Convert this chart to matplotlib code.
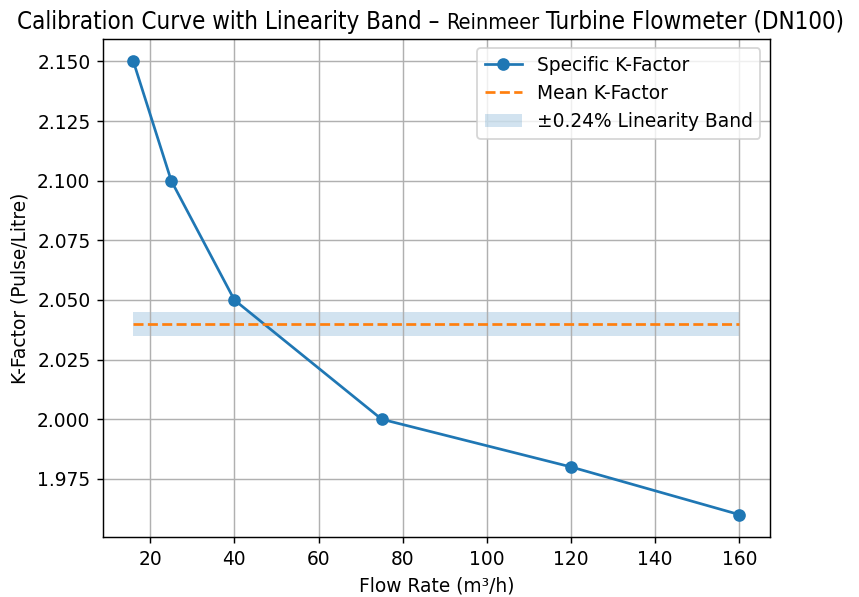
import matplotlib
matplotlib.use("Agg")
import matplotlib.pyplot as plt

# Calibration data
flow_rate = [16, 25, 40, 75, 120, 160]
k_factor = [2.150, 2.100, 2.050, 2.000, 1.980, 1.960]
linearity_pct = 0.24

mean_k = sum(k_factor) / len(k_factor)
band = mean_k * linearity_pct / 100

title_parts = ["Calibration Curve with Linearity Band \u2013 ", "Reinmeer", " Turbine Flowmeter (DN100)"]
title_sizes = [13.3, 12, 13.3]

plt.rcParams["font.size"] = 10.3

fig, ax = plt.subplots(figsize=(859 / 130, 597 / 130), dpi=130)
fig.subplots_adjust(left=0.12, right=0.896, top=0.935, bottom=0.1)

ax.plot(flow_rate, k_factor, marker="o", label="Specific K-Factor")
ax.plot(flow_rate, [mean_k] * len(flow_rate), linestyle="--", label="Mean K-Factor")
ax.fill_between(flow_rate, mean_k - band, mean_k + band, alpha=0.2,
                label=f"\u00b1{linearity_pct}% Linearity Band")

ax.set_xlabel("Flow Rate (m\u00b3/h)")
ax.set_ylabel("K-Factor (Pulse/Litre)")
ax.grid(True)
ax.legend(loc="upper right")

# title made of pieces with different sizes, centred over the axes
texts = [fig.text(0, 0, t, fontsize=s, fontstretch="condensed", va="baseline")
         for t, s in zip(title_parts, title_sizes)]
fig.canvas.draw()
renderer = fig.canvas.get_renderer()
widths = [t.get_window_extent(renderer).width for t in texts]
total = sum(widths)
axbox = ax.get_window_extent(renderer)
x0 = (axbox.x0 + axbox.x1) / 2 - total / 2 - 6
y0 = axbox.y1 + 10
for t, w in zip(texts, widths):
    t.set_position((x0 / fig.bbox.width, y0 / fig.bbox.height))
    x0 += w

fig.savefig("out.png", dpi=130)
